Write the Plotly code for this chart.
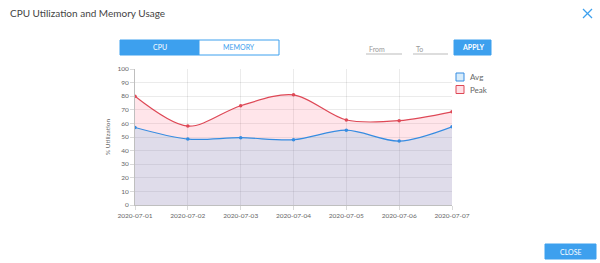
import plotly.graph_objects as go

dates = ["2020-07-01", "2020-07-02", "2020-07-03", "2020-07-04", "2020-07-05", "2020-07-06", "2020-07-07"]
avg = [57, 48.5, 49.5, 48, 55, 47, 57.5]
peak = [80, 58, 73, 81, 62.5, 62, 68.5]
y_ticks = [0, 10, 20, 30, 40, 50, 60, 70, 80, 90, 100]
series_names = ["Avg", "Peak"]

W, H = 600, 263
L, R, T, B = 135, 452, 69, 205

def px(x):
    return (x - L) / (R - L)

def py(y):
    return (B - y) / (B - T)

peak_line = "rgb(222,72,86)"
avg_line = "rgb(54,140,225)"
peak_fill = "rgba(255,99,132,0.17)"
avg_fill = "rgba(40,170,235,0.15)"

fig = go.Figure()
fig.add_trace(go.Scatter(
    x=dates, y=peak, name=series_names[1], mode="lines+markers", showlegend=False,
    line=dict(color=peak_line, width=1.2, shape="spline", smoothing=0.9),
    marker=dict(size=3.5, color=peak_line),
    fill="tozeroy", fillcolor=peak_fill,
))
fig.add_trace(go.Scatter(
    x=dates, y=avg, name=series_names[0], mode="lines+markers", showlegend=False,
    line=dict(color=avg_line, width=1.2, shape="spline", smoothing=0.9),
    marker=dict(size=3.5, color=avg_line),
    fill="tozeroy", fillcolor=avg_fill,
))

grid = "rgba(0,0,0,0.08)"
fig.update_xaxes(
    type="category", categoryarray=dates, range=[0, len(dates) - 1], showgrid=True, gridcolor=grid,
    showline=True, linecolor="rgba(0,0,0,0.25)", ticks="outside", ticklen=4,
    tickcolor="rgba(0,0,0,0.15)", tickfont=dict(size=6.5, color="#666"), zeroline=False,
)
fig.update_yaxes(
    range=[0, 100], tickvals=y_ticks, showgrid=True, gridcolor=grid,
    showline=True, linecolor="rgba(0,0,0,0.25)", ticks="outside", ticklen=4,
    tickcolor="rgba(0,0,0,0.15)", tickfont=dict(size=6.5, color="#666"), zeroline=False,
    title=dict(text="% Utilization", font=dict(size=6.5, color="#666"), standoff=6),
)

shapes = []
annos = []

def txt(text, x, y, size=7, color="white", xanchor="center"):
    annos.append(dict(text=text, x=px(x), y=py(y), xref="paper", yref="paper", showarrow=False,
                      xanchor=xanchor, yanchor="middle", font=dict(size=size, color=color)))

def rect(x0, y0, x1, y1, fill, line, width=1):
    shapes.append(dict(type="rect", xref="paper", yref="paper", x0=px(x0), x1=px(x1), y0=py(y1), y1=py(y0),
                       fillcolor=fill, line=dict(color=line, width=width)))

# legend (manual swatches)
for i, (name, lc, fc) in enumerate([(series_names[0], avg_line, "rgba(54,162,235,0.2)"),
                                     (series_names[1], peak_line, "rgba(255,99,132,0.2)")]):
    yc = 77 + i * 12.5
    rect(456, yc - 4, 464, yc + 4, fc, lc)
    txt(name, 467.5, yc, size=8, color="#666", xanchor="left")

# CPU / MEMORY tabs
rect(120, 40, 199, 55, "#3da0ee", "#3da0ee")
rect(199, 40, 279, 55, "white", "#3da0ee")
txt("CPU", 160, 47.5)
txt("MEMORY", 239, 47.5, color="#3da0ee")
# From / To inputs
for x0, x1, label in [(366, 402, "From"), (413, 448, "To")]:
    shapes.append(dict(type="line", xref="paper", yref="paper", x0=px(x0), x1=px(x1), y0=py(54), y1=py(54),
                       line=dict(color="#bbb", width=1)))
    txt(label, x0 + 1, 48.5, color="#999", xanchor="left")
# APPLY button
rect(454, 40, 491, 55, "#3da0ee", "#3da0ee")
txt("<b>APPLY</b>", 472.5, 47.5)
# CLOSE button
rect(545, 244, 596, 259, "#3da0ee", "#3da0ee")
txt("CLOSE", 570.5, 251.5)
# Close X
shapes.append(dict(type="line", xref="paper", yref="paper", x0=px(583), x1=px(592), y0=py(9), y1=py(18),
                   line=dict(color="#3da0ee", width=1.3)))
shapes.append(dict(type="line", xref="paper", yref="paper", x0=px(583), x1=px(592), y0=py(18), y1=py(9),
                   line=dict(color="#3da0ee", width=1.3)))
# Title
txt("CPU Utilization and Memory Usage", 8, 13, size=10, color="#444", xanchor="left")

fig.update_layout(
    width=W, height=H,
    margin=dict(l=L, r=W - R, t=T, b=H - B),
    paper_bgcolor="white", plot_bgcolor="white",
    font=dict(family="Lato, sans-serif"),
    showlegend=False,
    shapes=shapes, annotations=annos,
)

fig.write_html("out.html")
